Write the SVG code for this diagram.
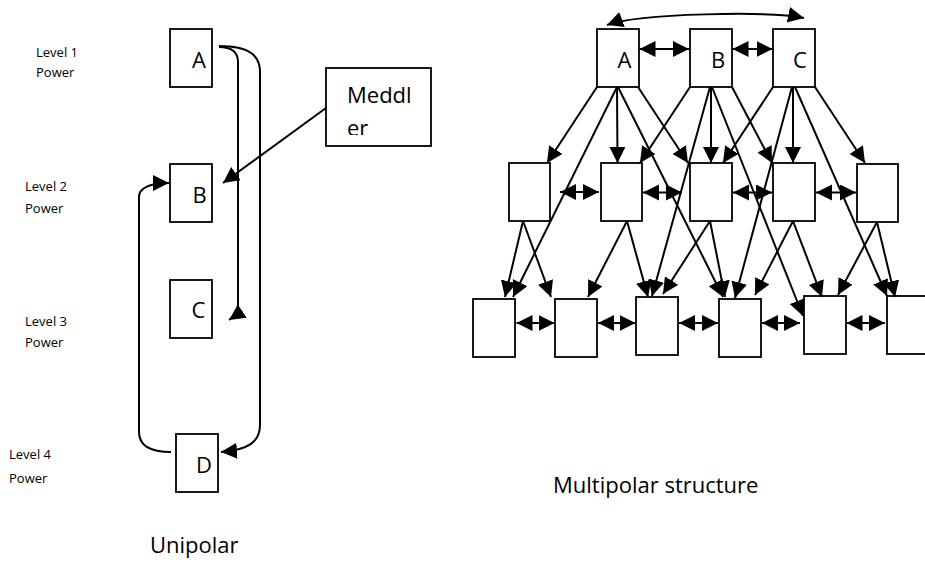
<svg xmlns="http://www.w3.org/2000/svg" width="925" height="582" viewBox="0 0 925 582">
<style>
.box{fill:#fff;stroke:#000;stroke-width:1.8}
.ln{fill:none;stroke:#000;stroke-width:2}
.lbl{font-family:"Open Sans","Liberation Sans",sans-serif;font-size:22px;fill:#000}
.lvl{font-family:"Open Sans","Liberation Sans",sans-serif;font-size:13px;fill:#000}
</style>
<defs>
<marker id="ah" markerUnits="userSpaceOnUse" markerWidth="18" markerHeight="18" refX="16" refY="8" orient="auto-start-reverse"><path d="M0,0 L16,8 L0,16 z" fill="#000"/></marker>
<clipPath id="mclip"><rect x="326" y="68" width="105" height="67"/></clipPath>
</defs>
<rect width="925" height="582" fill="#fff"/>

<g id="level-labels">
<text class="lvl" x="36" y="57">Level 1</text><text class="lvl" x="36" y="77">Power</text>
<text class="lvl" x="25" y="191">Level 2</text><text class="lvl" x="25" y="213">Power</text>
<text class="lvl" x="25" y="326">Level 3</text><text class="lvl" x="25" y="347">Power</text>
<text class="lvl" x="9" y="459">Level 4</text><text class="lvl" x="9" y="483">Power</text>
</g>

<g id="u-A"><rect class="box" x="170" y="29" width="42" height="58"/><text class="lbl" x="192" y="68">A</text></g>
<g id="u-B"><rect class="box" x="170" y="164" width="42" height="58"/><text class="lbl" x="192.5" y="203">B</text></g>
<g id="u-C"><rect class="box" x="170" y="280" width="42" height="58"/><text class="lbl" x="191.5" y="318">C</text></g>
<g id="u-D"><rect class="box" x="176" y="434" width="42" height="58"/><text class="lbl" x="196" y="473">D</text></g>
<g id="meddler"><rect class="box" x="326" y="68" width="105" height="78"/>
<text class="lbl" x="347" y="103">Meddl</text>
<text class="lbl" x="347" y="135.5" clip-path="url(#mclip)">er</text></g>

<g id="m-A"><rect class="box" x="597" y="29" width="42" height="58"/><text class="lbl" x="617.5" y="68">A</text></g>
<g id="m-B"><rect class="box" x="690" y="29" width="42" height="58"/><text class="lbl" x="711" y="68">B</text></g>
<g id="m-C"><rect class="box" x="773" y="29" width="42" height="58"/><text class="lbl" x="793" y="68">C</text></g>

<g id="m-M1"><rect class="box" x="509" y="163" width="41" height="58"/></g>
<g id="m-M2"><rect class="box" x="601" y="163" width="41" height="58"/></g>
<g id="m-M3"><rect class="box" x="690" y="163" width="42" height="58"/></g>
<g id="m-M4"><rect class="box" x="773" y="163" width="42" height="58"/></g>
<g id="m-M5"><rect class="box" x="857" y="164" width="41" height="58"/></g>

<g id="m-L1"><rect class="box" x="473" y="299" width="42" height="58"/></g>
<g id="m-L2"><rect class="box" x="555" y="299" width="42" height="58"/></g>
<g id="m-L3"><rect class="box" x="636" y="297" width="42" height="58"/></g>
<g id="m-L4"><rect class="box" x="719" y="299" width="42" height="58"/></g>
<g id="m-L5"><rect class="box" x="804" y="296" width="42" height="58"/></g>
<g id="m-L6"><rect class="box" x="887" y="296" width="60" height="58"/></g>

<g id="connectors" class="ln">
<path class="ln" marker-end="url(#ah)" d="M219,47 C232,47 238,52 238,62 L238,305 Q238,314 229,320"/>
<path class="ln" marker-end="url(#ah)" d="M219,46 C250,46 260,56 260,72 L260,425 C260,442 248,450 221,452"/>
<path class="ln" marker-end="url(#ah)" d="M326,108 L223,183"/>
<path class="ln" marker-end="url(#ah)" d="M171,452 C150,452 139,446 139,432 L139,197 C139,188 150,183 169,183"/>

<path class="ln" marker-start="url(#ah)" marker-end="url(#ah)" d="M607,25 C640,13 770,11 804,18"/>
<path class="ln" marker-start="url(#ah)" marker-end="url(#ah)" d="M639.5,49 L689,49"/>
<path class="ln" marker-start="url(#ah)" marker-end="url(#ah)" d="M732.5,49 L772.5,49"/>

<path class="ln" marker-start="url(#ah)" marker-end="url(#ah)" d="M560,192 L599,192"/>
<path class="ln" marker-start="url(#ah)" marker-end="url(#ah)" d="M643,192.5 L682,192.5"/>
<path class="ln" marker-start="url(#ah)" marker-end="url(#ah)" d="M733,192.5 L772,192.5"/>
<path class="ln" marker-start="url(#ah)" marker-end="url(#ah)" d="M816,192.5 L856,192.5"/>

<path class="ln" marker-start="url(#ah)" marker-end="url(#ah)" d="M516.5,323 L554.5,323"/>
<path class="ln" marker-start="url(#ah)" marker-end="url(#ah)" d="M598,323 L635.5,323"/>
<path class="ln" marker-start="url(#ah)" marker-end="url(#ah)" d="M679,323 L718,323"/>
<path class="ln" marker-start="url(#ah)" marker-end="url(#ah)" d="M762,323 L800,323"/>
<path class="ln" marker-start="url(#ah)" marker-end="url(#ah)" d="M846.5,323 L885,323"/>

<path class="ln" marker-end="url(#ah)" d="M597,87 L547,163"/>
<path class="ln" marker-end="url(#ah)" d="M617,87 L513,297"/>
<path class="ln" marker-end="url(#ah)" d="M617,87 L617.5,163"/>
<path class="ln" marker-end="url(#ah)" d="M618,87 L723,297"/>
<path class="ln" marker-end="url(#ah)" d="M638,87 L688,163"/>

<path class="ln" marker-end="url(#ah)" d="M690,87 L640,163"/>
<path class="ln" marker-end="url(#ah)" d="M710,87 L652,296"/>
<path class="ln" marker-end="url(#ah)" d="M711,87 L711,163"/>
<path class="ln" marker-end="url(#ah)" d="M712,87 L803,316"/>
<path class="ln" marker-end="url(#ah)" d="M732,87 L772,163"/>

<path class="ln" marker-end="url(#ah)" d="M773,87 L723,163"/>
<path class="ln" marker-end="url(#ah)" d="M792,87 L735,298"/>
<path class="ln" marker-end="url(#ah)" d="M793,87 L793,163"/>
<path class="ln" marker-end="url(#ah)" d="M795,87 L887,296"/>
<path class="ln" marker-end="url(#ah)" d="M815,87 L865,163"/>

<path class="ln" marker-end="url(#ah)" d="M523,221 L505,297"/>
<path class="ln" marker-end="url(#ah)" d="M523,221 L551,297"/>
<path class="ln" marker-end="url(#ah)" d="M627,221 L588,297"/>
<path class="ln" marker-end="url(#ah)" d="M627,221 L648,297"/>
<path class="ln" marker-end="url(#ah)" d="M710,221 L663,294"/>
<path class="ln" marker-end="url(#ah)" d="M710,221 L725,297"/>
<path class="ln" marker-end="url(#ah)" d="M793,221 L755,295"/>
<path class="ln" marker-end="url(#ah)" d="M793,221 L822,297"/>
<path class="ln" marker-end="url(#ah)" d="M877,222 L838,295"/>
<path class="ln" marker-end="url(#ah)" d="M877,222 L895,297"/>
</g>

<g id="captions">
<text class="lbl" x="553" y="493">Multipolar structure</text>
<text class="lbl" x="150" y="553">Unipolar</text>
</g>
</svg>
